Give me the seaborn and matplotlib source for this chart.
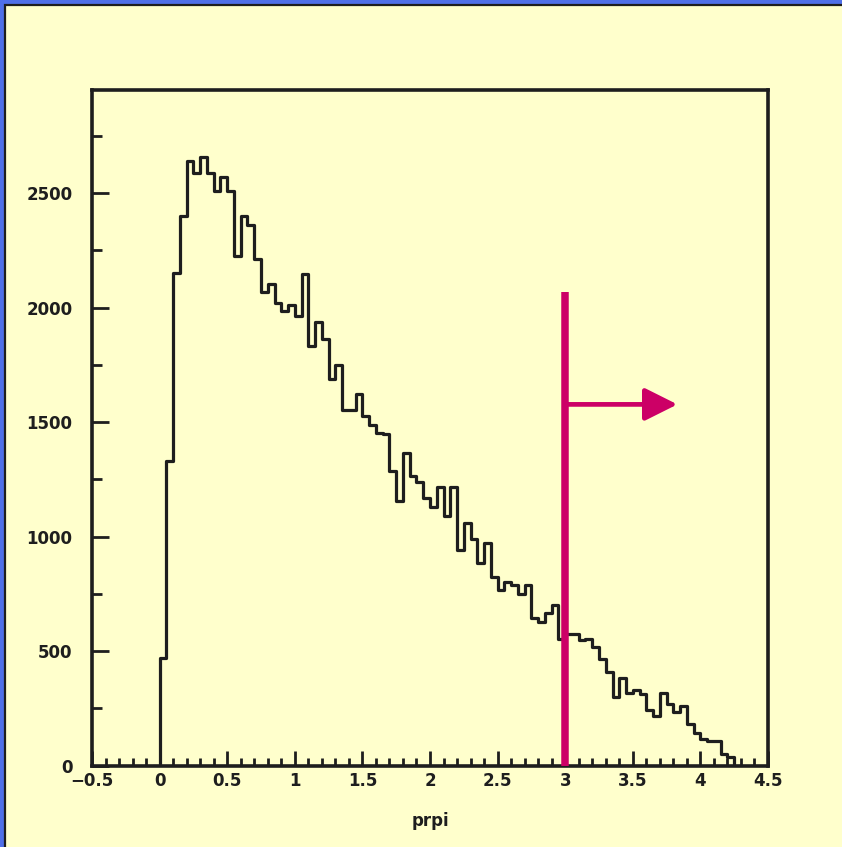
import numpy as np
import pandas as pd
import matplotlib
matplotlib.use("Agg")
import matplotlib.pyplot as plt
from matplotlib.patches import Rectangle
from matplotlib.ticker import MultipleLocator
import seaborn as sns

# Histogram of prpi: bin width 0.05 starting at 0
bin_width = 0.05
bin_start = 0.0
counts = [470, 1330, 2152, 2398, 2642, 2588, 2656, 2588, 2511, 2569,
          2511, 2227, 2398, 2362, 2213, 2067, 2101, 2021, 1987, 2013,
          1965, 2147, 1831, 1939, 1861, 1689, 1749, 1551, 1551, 1624,
          1525, 1488, 1454, 1446, 1286, 1156, 1364, 1266, 1237, 1170,
          1130, 1216, 1089, 1215, 942, 1058, 987, 885, 971, 825,
          765, 800, 788, 751, 788, 642, 625, 664, 703, 551,
          574, 574, 548, 552, 516, 463, 409, 298, 380, 315,
          329, 312, 242, 216, 318, 268, 235, 260, 181, 143,
          114, 107, 107, 49, 36]

# Cut position and arrow
cut_x = 3.0
cut_top = 2066
arrow_y = 1577
arrow_end = 3.83

x_label = "prpi"
x_range = (-0.5, 4.5)
y_range = (0, 2950)

sns.set_style("ticks")
plt.rcParams["font.family"] = ["DejaVu Sans"]
plt.rcParams["font.weight"] = "bold"

bg = "#FFFFCC"
frame_blue = "#4F6FE8"
ink = "#1e1e1e"
magenta = "#CC0066"

W, H = 842, 847
fig = plt.figure(figsize=(W / 100, H / 100), dpi=100)
fig.patch.set_facecolor(frame_blue)
# Inner pad: blue margin only on the top and left edges
fig.patches.append(Rectangle((5 / W, -0.05), 1.1, 1.05 - 5 / H,
                             transform=fig.transFigure, facecolor=bg,
                             edgecolor=ink, linewidth=1.6, zorder=-10))

ax = fig.add_axes([92 / W, 1 - 765.5 / H, (768 - 92) / W, (765.5 - 90) / H])
ax.set_zorder(5)
ax.set_facecolor(bg)

# Pad the histogram with empty bins so the outline starts and ends on the baseline
n = len(counts)
edges = bin_start + bin_width * np.arange(-1, n + 2)
centers = (edges[:-1] + edges[1:]) / 2
weights = [0] + counts + [0]
df = pd.DataFrame({"prpi": centers, "w": weights})
sns.histplot(data=df, x="prpi", weights="w", bins=edges.tolist(), element="step",
             fill=False, color=ink, linewidth=2.3, ax=ax)

# Cut line with arrow
ax.plot([cut_x, cut_x], [0, cut_top], color=magenta, linewidth=5.4,
        solid_capstyle="butt", zorder=5)
ax.annotate("", xy=(arrow_end, arrow_y), xytext=(cut_x, arrow_y),
            arrowprops=dict(arrowstyle="-|>,head_length=1.0,head_width=0.5",
                            mutation_scale=20, lw=3.4, color=magenta,
                            shrinkA=0, shrinkB=0), zorder=5)

ax.set_xlim(*x_range)
ax.set_ylim(*y_range)

ax.xaxis.set_major_locator(MultipleLocator(0.5))
ax.xaxis.set_minor_locator(MultipleLocator(0.1))
ax.yaxis.set_major_locator(MultipleLocator(500))
ax.yaxis.set_minor_locator(MultipleLocator(250))
ax.set_xticks(np.arange(-0.5, 4.51, 0.5))
ax.set_xticklabels([("\u2212" if v < 0 else "") + ("%g" % abs(v)) for v in np.arange(-0.5, 4.51, 0.5)])

ax.tick_params(axis="both", which="both", direction="in", top=False, right=False,
               color=ink, width=2.0, labelcolor=ink, labelsize=12)
ax.tick_params(axis="x", which="major", length=11, pad=5)
ax.tick_params(axis="x", which="minor", length=6)
ax.tick_params(axis="y", which="major", length=12, pad=14)
ax.tick_params(axis="y", which="minor", length=7)
for lab in ax.get_xticklabels() + ax.get_yticklabels():
    lab.set_fontweight("bold")

for sp in ax.spines.values():
    sp.set_linewidth(2.6)
    sp.set_color(ink)
    sp.set_visible(True)

ax.set_ylabel("")
ax.set_xlabel(x_label, fontsize=12, fontweight="bold", color=ink)
ax.xaxis.set_label_coords(0.5, -0.069)

fig.savefig("out.png", dpi=100, facecolor=fig.get_facecolor())
